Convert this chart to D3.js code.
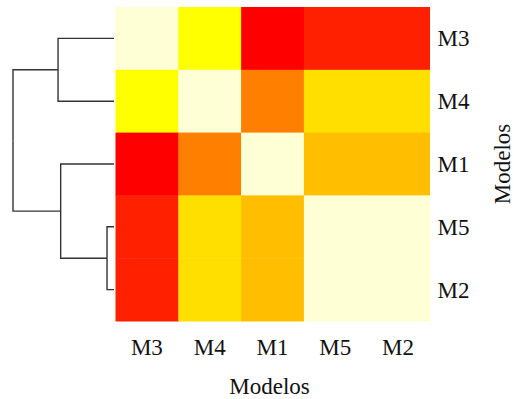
<!DOCTYPE html>
<html>
<head>
<meta charset="utf-8">
<script src="https://cdn.jsdelivr.net/npm/d3@7"></script>
<style>
  html, body { margin: 0; padding: 0; background: #fff; }
  #chart text { font-family: "Times New Roman", "Liberation Serif", Tinos, serif !important; }
</style>
</head>
<body>
<svg id="chart" width="514" height="399"></svg>
<script>
// ---- data ----
const labels = ["M3", "M4", "M1", "M5", "M2"];        // row & column order
const rowM3 = [0.00, 0.29, 1.00, 0.88, 0.88];
const rowM4 = [0.29, 0.00, 0.62, 0.37, 0.37];
const rowM1 = [1.00, 0.62, 0.00, 0.45, 0.45];
const rowM5 = [0.88, 0.37, 0.45, 0.00, 0.05];
const rowM2 = [0.88, 0.37, 0.45, 0.05, 0.00];
const matrix = [rowM3, rowM4, rowM1, rowM5, rowM2];
// reversed heat.colors(12)
const palette = ["#FFFFD5", "#FFFF80", "#FFFF2A", "#FFFF00", "#FFDF00", "#FFBF00",
                 "#FF9F00", "#FF8000", "#FF6000", "#FF4000", "#FF2000", "#FF0000"];
// row dendrogram (merge heights)
const dendro = { h: 1.0, children: [
  { h: 0.554, children: [{ name: "M3" }, { name: "M4" }] },
  { h: 0.528, children: [{ name: "M1" }, { h: 0.069, children: [{ name: "M5" }, { name: "M2" }] }] }
]};
const axisTitle = "Modelos";

// ---- layout ----
const svg = d3.select("#chart");
const hm = { x0: 115.5, x1: 429.5, y0: 7, y1: 321 };

const x = d3.scaleBand().domain(labels).range([hm.x0, hm.x1]);
const y = d3.scaleBand().domain(labels).range([hm.y0, hm.y1]);
const color = d3.scaleQuantize().domain([0, 1]).range(palette);

const txt = sel => sel
  .attr("font-family", "Times New Roman")
  .style("font-size", "23px")
  .style("fill", "#111");

// cells
const cells = [];
matrix.forEach((row, i) => row.forEach((v, j) => cells.push({ r: labels[i], c: labels[j], v })));
svg.append("g").selectAll("rect").data(cells).join("rect")
  .attr("x", d => x(d.c))
  .attr("y", d => y(d.r))
  .attr("width", x.bandwidth() + 0.5)
  .attr("height", y.bandwidth() + 0.5)
  .attr("fill", d => color(d.v));

// bottom labels
svg.append("g").selectAll("text").data(labels).join("text")
  .attr("x", d => x(d) + x.bandwidth() / 2)
  .attr("y", 355)
  .attr("text-anchor", "middle")
  .call(txt)
  .text(d => d);

// right labels
svg.append("g").selectAll("text").data(labels).join("text")
  .attr("x", 437.5)
  .attr("y", d => y(d) + y.bandwidth() / 2 + 8)
  .call(txt)
  .text(d => d);

// axis titles
svg.append("text")
  .attr("x", (hm.x0 + hm.x1) / 2 - 3)
  .attr("y", 394)
  .attr("text-anchor", "middle")
  .call(txt)
  .text(axisTitle);

svg.append("text")
  .attr("transform", `translate(510, ${(hm.y0 + hm.y1) / 2}) rotate(-90)`)
  .attr("text-anchor", "middle")
  .call(txt)
  .text(axisTitle);

// dendrogram
const hx = d3.scaleLinear().domain([0, 1]).range([114, 13]);
const root = d3.hierarchy(dendro);
root.eachAfter(n => {
  if (!n.children) { n.py = y(n.data.name) + y.bandwidth() / 2; n.px = hx(0); }
  else { n.py = d3.mean(n.children, c => c.py); n.px = hx(n.data.h); }
});
const paths = [];
root.each(n => {
  if (n.children) {
    n.children.forEach(c => {
      paths.push(`M${n.px},${n.py}V${c.py}H${c.px}`);
    });
  }
});
svg.append("g").selectAll("path").data(paths).join("path")
  .attr("d", d => d)
  .attr("fill", "none")
  .attr("stroke", "#333")
  .attr("stroke-width", 1.4);
</script>
</body>
</html>
